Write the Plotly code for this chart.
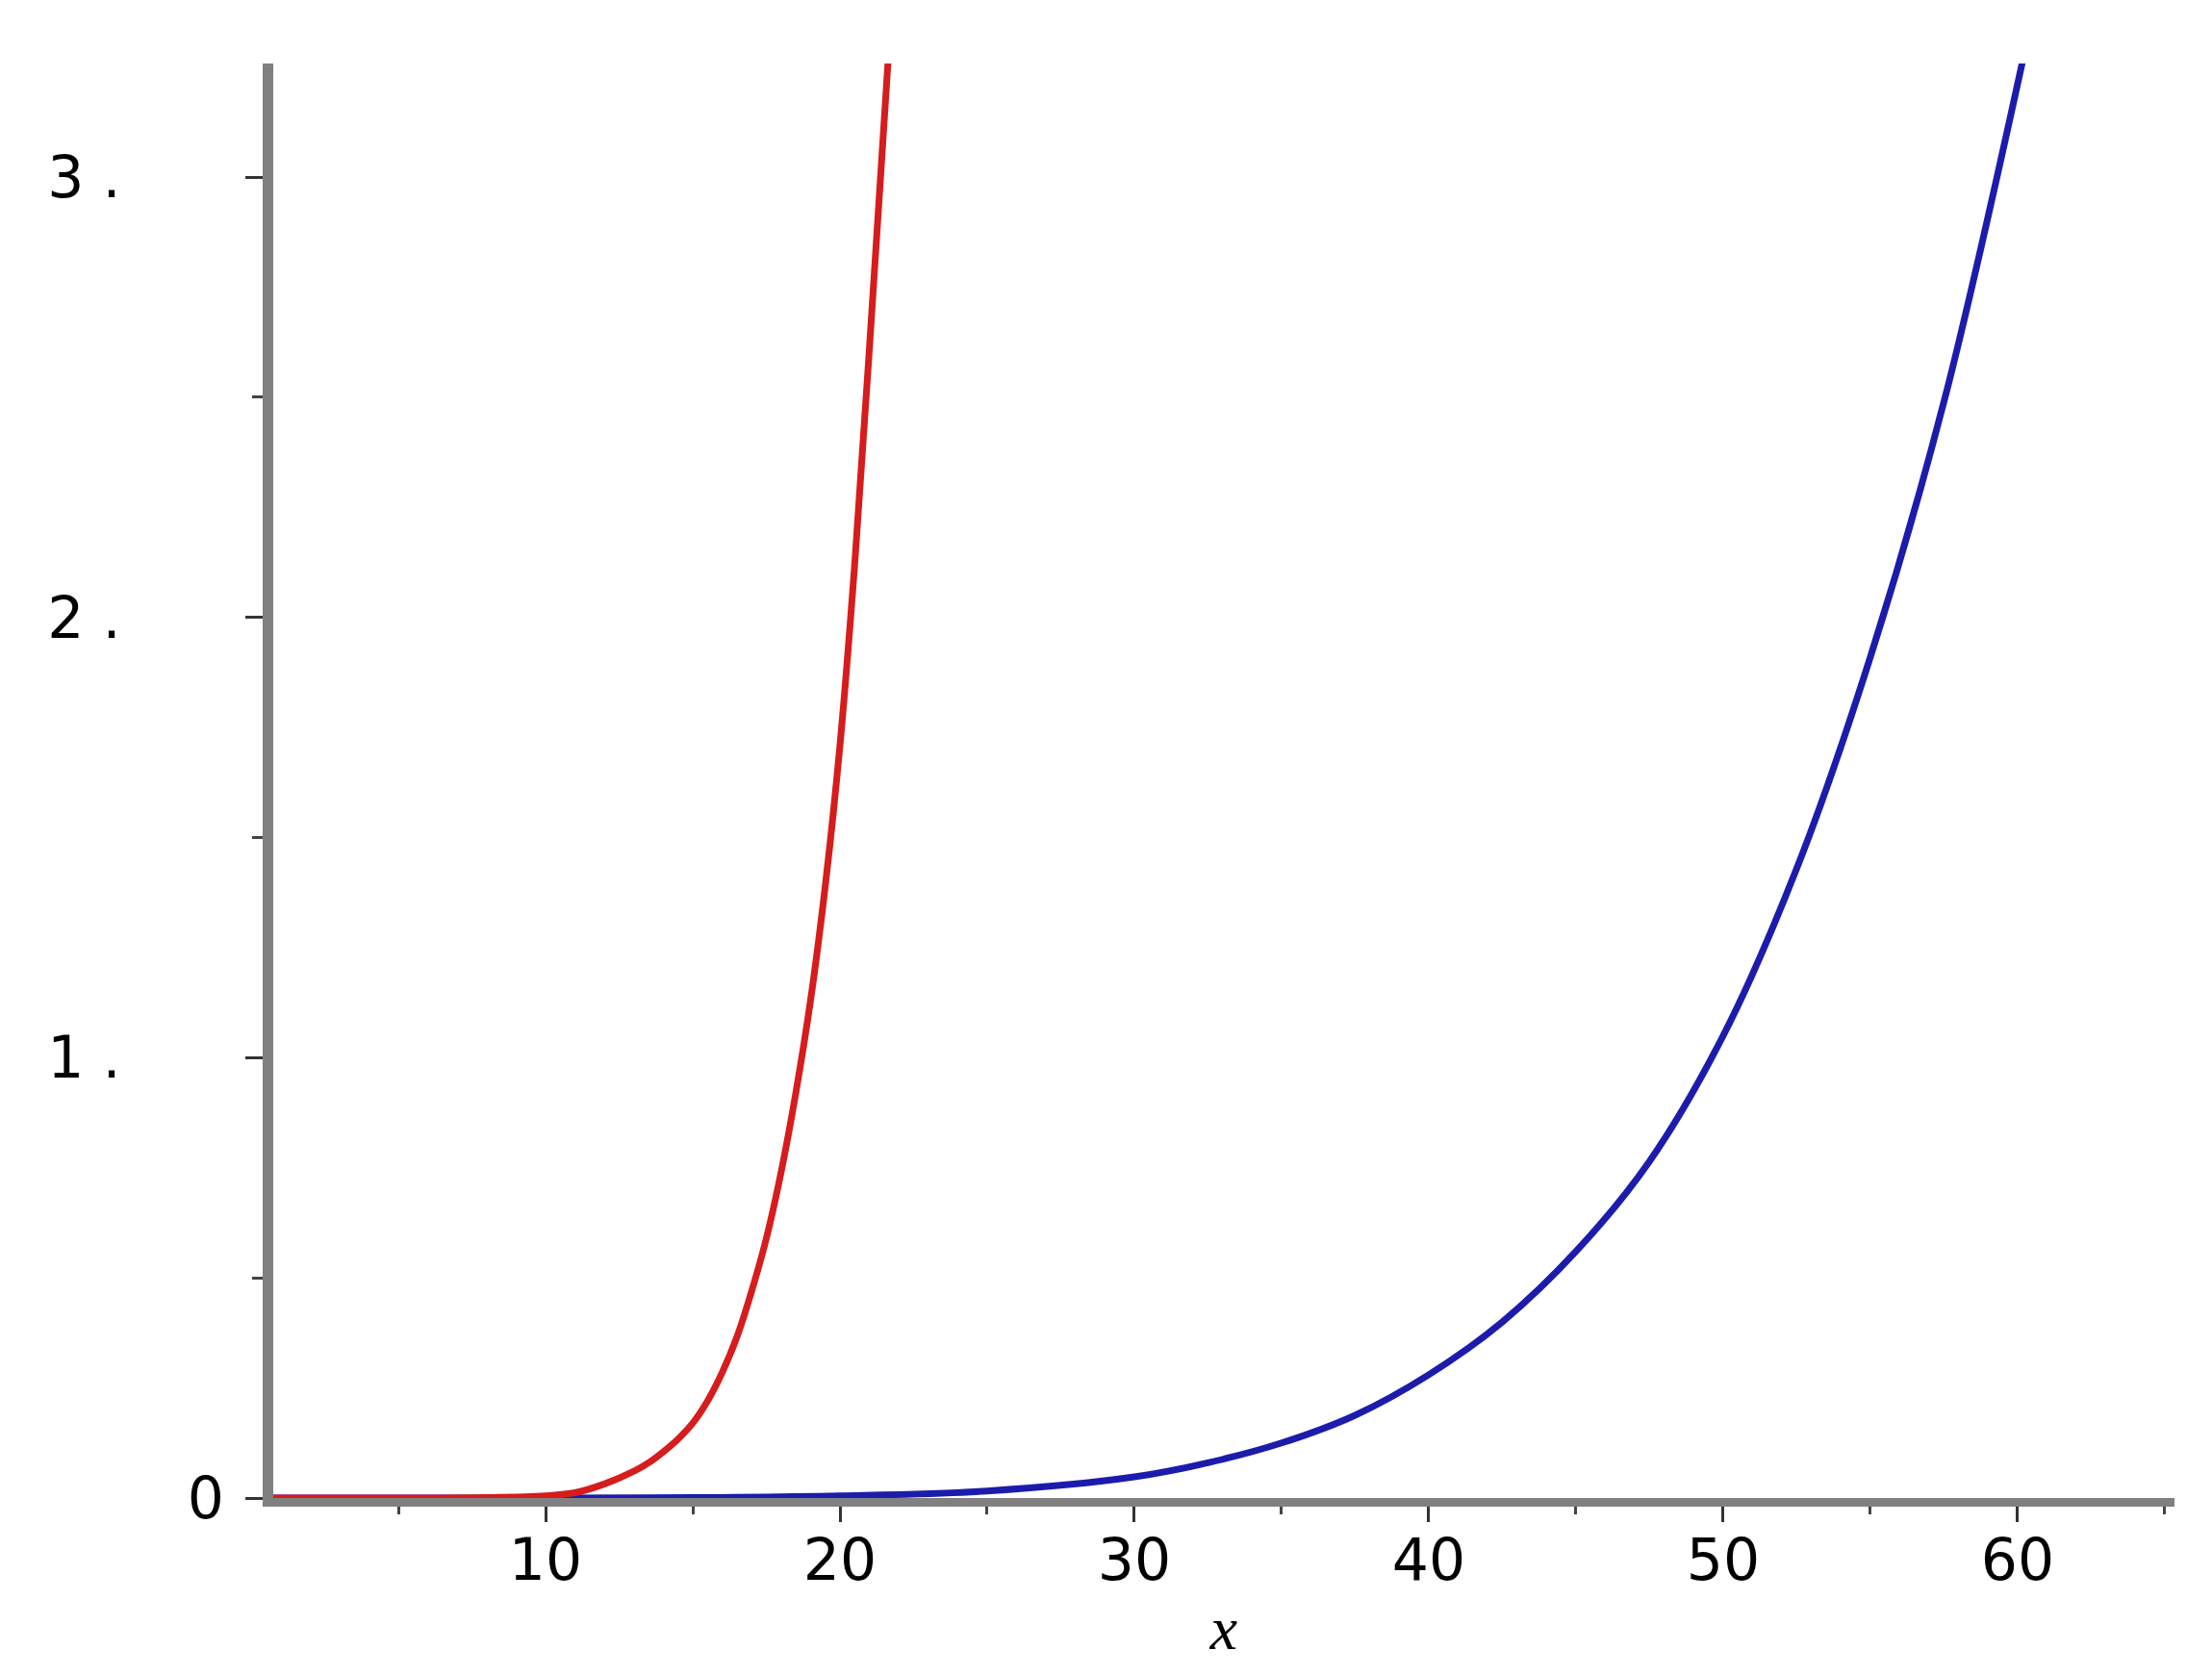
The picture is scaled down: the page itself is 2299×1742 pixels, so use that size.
import plotly.graph_objects as go

# values
red_x = [0.75, 5, 8, 10, 11, 12, 13, 13.5, 14, 14.5, 15, 15.5, 16, 16.5, 17, 17.5, 18, 18.5, 19, 19.5, 20,
         20.5, 21, 21.63]
red_y = [0, 0, 0.001, 0.005, 0.012, 0.032, 0.061, 0.08, 0.105, 0.134, 0.17, 0.22, 0.285, 0.366, 0.47, 0.59,
         0.74, 0.92, 1.13, 1.39, 1.71, 2.12, 2.61, 3.26]

blue_x = [0.75, 10, 15, 20, 25, 30, 32.5, 35, 37.5, 40, 42.5, 45, 47.5, 50, 52.5, 55, 57.5, 60.16]
blue_y = [0, 0, 0.001, 0.005, 0.016, 0.048, 0.08, 0.125, 0.188, 0.28, 0.40, 0.56, 0.765, 1.05, 1.43, 1.91,
          2.49, 3.26]

x_ticks = [10, 20, 30, 40, 50, 60]
x_labels = ["10", "20", "30", "40", "50", "60"]
y_ticks = [0, 1, 2, 3]
y_labels = ["0", "1 .", "2 .", "3 ."]

PAD = "\u00a0" * 5 + "\u2009"
AXIS_GRAY = "#808080"
TICK_FONT = dict(family="DejaVu Sans", size=60, color="black")

fig = go.Figure()
fig.add_trace(go.Scatter(x=blue_x, y=blue_y, mode="lines", line=dict(color="#1c1cac", width=7, shape="spline"),
                         showlegend=False))
fig.add_trace(go.Scatter(x=red_x, y=red_y, mode="lines", line=dict(color="#d61c1c", width=7, shape="spline"),
                         showlegend=False))

fig.update_layout(
    width=2299,
    height=1742,
    margin=dict(l=276, r=47, t=58, b=193),
    plot_bgcolor="white",
    paper_bgcolor="white",
)
fig.update_xaxes(
    range=[0.75, 65.33],
    showgrid=False,
    zeroline=False,
    showline=True,
    linecolor=AXIS_GRAY,
    linewidth=9,
    ticks="outside",
    ticklen=16,
    tickwidth=3,
    tickcolor="#333333",
    tickvals=x_ticks,
    ticktext=x_labels,
    tickfont=TICK_FONT,
    ticklabelstandoff=-12,
    minor=dict(ticks="outside", dtick=5, tick0=0, ticklen=8, tickwidth=3, tickcolor="#444444"),
    title=dict(text="x", font=dict(family="Liberation Serif", size=64, style="italic", color="black"), standoff=18),
)
fig.update_yaxes(
    range=[0, 3.258],
    showgrid=False,
    zeroline=False,
    showline=True,
    linecolor=AXIS_GRAY,
    linewidth=11,
    ticks="outside",
    ticklen=18,
    tickwidth=3,
    tickcolor="#333333",
    tickvals=y_ticks,
    ticktext=[y_labels[0]] + [t + PAD for t in y_labels[1:]],
    tickfont=TICK_FONT,
    ticklabelstandoff=10,
    minor=dict(ticks="outside", dtick=0.5, tick0=0, ticklen=11, tickwidth=3, tickcolor="#444444"),
)

fig.write_html("out.html")
